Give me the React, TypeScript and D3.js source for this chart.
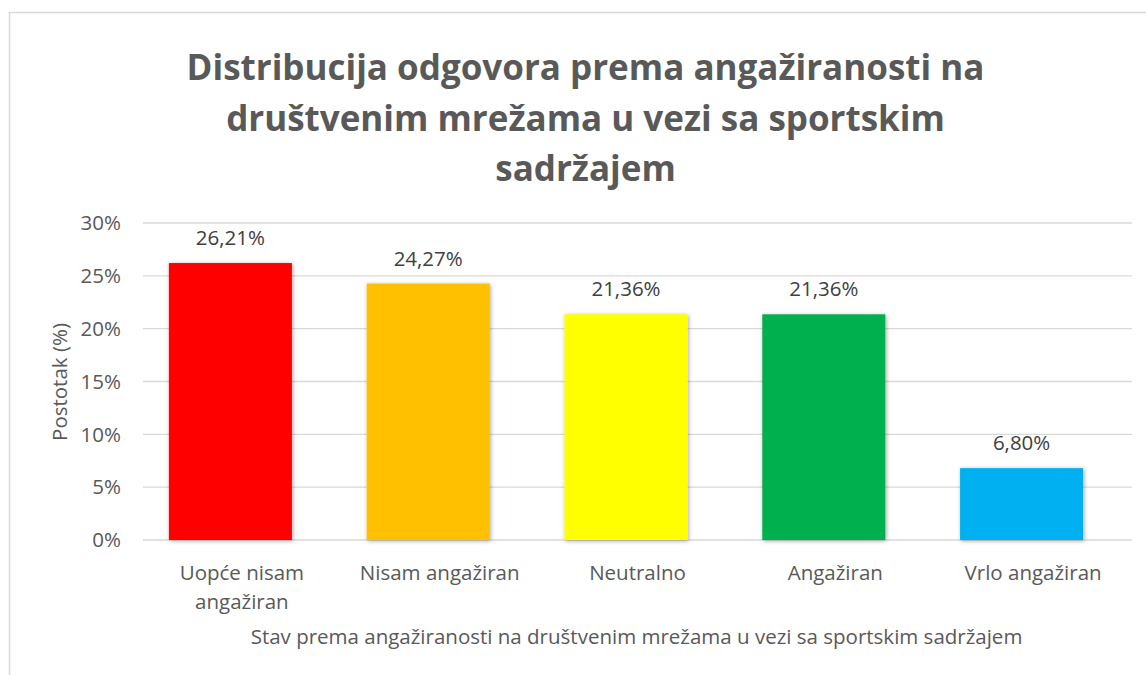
import * as d3 from "d3";

const categories = ["Uopće nisam angažiran", "Nisam angažiran", "Neutralno", "Angažiran", "Vrlo angažiran"];
const categoryLines = [["Uopće nisam", "angažiran"], ["Nisam angažiran"], ["Neutralno"], ["Angažiran"], ["Vrlo angažiran"]];
const values = [26.21, 24.27, 21.36, 21.36, 6.8];
const barColors = ["#FF0000", "#FFC000", "#FFFF00", "#00B050", "#00B0F0"];
const yTicks = [0, 5, 10, 15, 20, 25, 30];
const titleLines = [
  "Distribucija odgovora prema angažiranosti na",
  "društvenim mrežama u vezi sa sportskim",
  "sadržajem",
];
const xAxisTitle = "Stav prema angažiranosti na društvenim mrežama u vezi sa sportskim sadržajem";
const yAxisTitle = "Postotak (%)";

const W = 1146;
const H = 675;
const plot = { left: 143, right: 1132, top: 223, bottom: 540 };
const font = "'Open Sans', Lato, sans-serif";
const textColor = "#595959";
const fs = 20.5;

export default function App() {
  // labels sit on the category centres, bars are drawn a bit to the left (as in the source image)
  const x = d3.scaleBand<string>().domain(categories).range([plot.left, plot.right]);
  const xBars = d3
    .scaleBand<string>()
    .domain(categories)
    .range([plot.left - 11.5, plot.right - 11.5])
    .paddingInner(0.378)
    .paddingOuter(0.189);
  const y = d3.scaleLinear().domain([0, 30]).range([plot.bottom, plot.top]);
  const fmt = (v: number) => v.toFixed(2).replace(".", ",") + "%";

  return (
    <svg width={W} height={H} style={{ position: "absolute", left: 0, top: 0, background: "#fff" }}>
      <defs>
        <filter id="shadow" x="-20%" y="-20%" width="140%" height="140%">
          <feDropShadow dx="1" dy="1" stdDeviation="2" floodColor="#000" floodOpacity="0.35" />
        </filter>
      </defs>
      <rect x={9.5} y={12.5} width={1200} height={700} fill="#fff" stroke="#d9d9d9" strokeWidth={1.5} />

      {/* title */}
      {titleLines.map((t, i) => (
        <text
          key={t}
          x={585.5}
          y={80 + i * 50.5}
          textAnchor="middle"
          fontFamily={font}
          fontWeight={700}
          fontSize={35}
          fill={textColor}
        >
          {t}
        </text>
      ))}

      {/* gridlines */}
      {yTicks.map((t) => (
        <line key={t} x1={plot.left} x2={plot.right} y1={y(t)} y2={y(t)} stroke="#d9d9d9" strokeWidth={1.3} />
      ))}

      {/* y tick labels */}
      {yTicks.map((t) => (
        <text
          key={"l" + t}
          x={121}
          y={y(t)}
          dy="0.35em"
          textAnchor="end"
          fontFamily={font}
          fontSize={fs}
          fill={textColor}
        >
          {t + "%"}
        </text>
      ))}

      {/* bars */}
      {categories.map((c, i) => (
        <rect
          key={c}
          x={xBars(c)}
          y={y(values[i])}
          width={xBars.bandwidth()}
          height={y(0) - y(values[i])}
          fill={barColors[i]}
          filter="url(#shadow)"
        />
      ))}

      {/* data labels */}
      {categories.map((c, i) => (
        <text
          key={"v" + c}
          x={(xBars(c) ?? 0) + xBars.bandwidth() / 2}
          y={y(values[i]) - 18}
          textAnchor="middle"
          fontFamily={font}
          fontSize={fs}
          fill="#404040"
        >
          {fmt(values[i])}
        </text>
      ))}

      {/* category labels */}
      {categories.map((c, i) =>
        categoryLines[i].map((line, j) => (
          <text
            key={c + j}
            x={(x(c) ?? 0) + x.bandwidth() / 2}
            y={580 + j * 29}
            textAnchor="middle"
            fontFamily={font}
            fontSize={fs}
            fill={textColor}
          >
            {line}
          </text>
        ))
      )}

      {/* axis titles */}
      <text x={636.5} y={644} textAnchor="middle" fontFamily={font} fontSize={fs} fill={textColor}>
        {xAxisTitle}
      </text>
      <text
        transform={`translate(67,382) rotate(-90)`}
        textAnchor="middle"
        fontFamily={font}
        fontSize={fs}
        fill={textColor}
      >
        {yAxisTitle}
      </text>
    </svg>
  );
}
